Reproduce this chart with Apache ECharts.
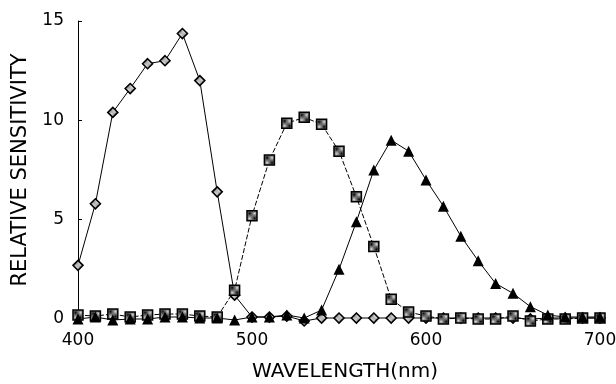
<!DOCTYPE html>
<html><head><meta charset="utf-8">
<script src="https://cdn.jsdelivr.net/npm/echarts@6/dist/echarts.min.js"></script>
<style>html,body{margin:0;padding:0;background:#fff}#c{width:616px;height:384px}</style>
</head><body><div id="c"></div>
<script>
const wavelengths = [400,410,420,430,440,450,460,470,480,490,500,510,520,530,540,550,560,570,580,590,600,610,620,630,640,650,660,670,680,690,700];
const diamondValues = [2.7,5.8,10.4,11.6,12.85,13.0,14.37,12.0,6.4,1.2,0.1,0.1,0.15,-0.1,0.05,0.05,0.05,0.05,0.05,0.05,0.05,0.05,0.05,0.05,0.05,0.05,0.0,0.05,0.05,0.05,0.05];
const squareValues = [0.2,0.15,0.25,0.1,0.2,0.25,0.25,0.15,0.1,1.45,5.2,8.0,9.85,10.15,9.8,8.45,6.15,3.65,1.0,0.35,0.15,0.0,0.05,0.0,0.0,0.15,-0.1,0.0,0.0,0.05,0.05];
const triangleValues = [0.0,0.1,-0.05,0.0,0.0,0.1,0.1,0.05,0.05,-0.05,0.1,0.1,0.2,0.05,0.45,2.5,4.9,7.5,9.0,8.45,7.0,5.68,4.17,2.93,1.79,1.29,0.62,0.2,0.1,0.1,0.1];
const yTicks = [0,5,10,15];
const xTicks = [400,500,600,700];

function checker(light){
  const cv=document.createElement('canvas');cv.width=2;cv.height=2;
  const g=cv.getContext('2d');g.fillStyle=light?'#fff':'#ddd';g.fillRect(0,0,2,2);
  g.fillStyle=light?'#777':'#000';g.fillRect(0,0,1,1);g.fillRect(1,1,1,1);
  return {image:cv,repeat:'repeat'};
}
const FONT = '"DejaVu Sans",sans-serif';
const pairs = v => wavelengths.map((w,i)=>[w,v[i]]);

const chart = echarts.init(document.getElementById('c'),null,{renderer:'canvas'});
chart.setOption({
  animation:false,
  backgroundColor:'#fff',
  grid:{left:78,right:16,top:21,bottom:65,containLabel:false,outerBoundsMode:'none'},
  xAxis:{type:'value',min:400,max:700,interval:100,
    axisLine:{show:false},axisTick:{show:false},splitLine:{show:false},
    axisLabel:{color:'#000',fontFamily:FONT,fontSize:17,margin:13,
      formatter:v=>xTicks.includes(v)?String(v):''},
    name:'WAVELENGTH(nm)',nameLocation:'middle',nameGap:43,
    nameTextStyle:{color:'#000',fontFamily:FONT,fontSize:20,padding:[0,0,0,12]}},
  yAxis:{type:'value',min:0,max:15,interval:5,
    axisLine:{show:true,lineStyle:{color:'#000',width:1}},
    axisTick:{show:true,inside:true,length:4,lineStyle:{color:'#000'}},
    splitLine:{show:false},
    axisLabel:{color:'#000',fontFamily:FONT,fontSize:17,margin:14,
      formatter:v=>yTicks.includes(v)?String(v):''},
    name:'RELATIVE SENSITIVITY',nameLocation:'middle',nameGap:47,nameRotate:90,
    nameTextStyle:{color:'#000',fontFamily:FONT,fontSize:21}},
  series:[
    {type:'line',data:pairs(diamondValues),clip:false,symbol:'diamond',symbolSize:10,
      lineStyle:{color:'#000',width:1},itemStyle:{color:checker(true),borderColor:'#000',borderWidth:1.6}},
    {type:'line',data:pairs(squareValues),clip:false,symbol:'rect',symbolSize:10,
      lineStyle:{color:'#000',width:1,type:[5,2]},itemStyle:{color:checker(false),borderColor:'#000',borderWidth:1.5}},
    {type:'line',data:pairs(triangleValues),clip:false,symbol:'triangle',symbolSize:11,
      lineStyle:{color:'#000',width:1},itemStyle:{color:'#000',borderColor:'#000',borderWidth:0}}
  ]
});
</script></body></html>
